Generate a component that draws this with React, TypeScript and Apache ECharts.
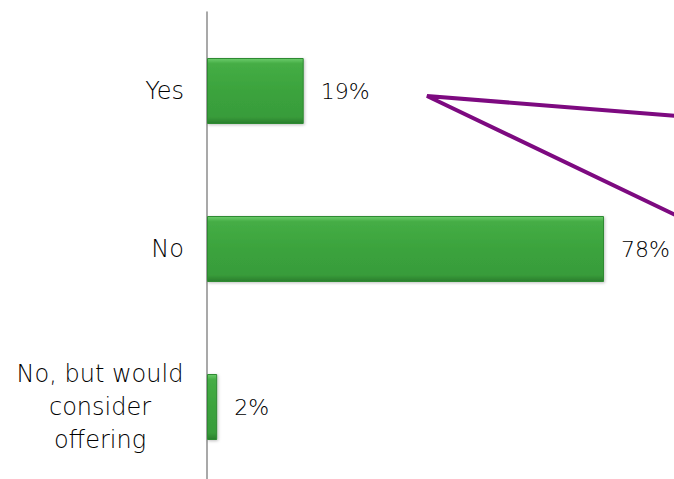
import React, { useEffect, useRef } from "react";
import * as echarts from "echarts";

const categories = ["Yes", "No", "No, but would\nconsider\noffering"];
const values = [19, 78, 2];
const calloutPoints: [number, number][] = [
  [690, 117],
  [427, 96],
  [690, 222],
];

export default function App() {
  const ref = useRef<HTMLDivElement>(null);
  useEffect(() => {
    if (!ref.current) return;
    const chart = echarts.init(ref.current, undefined, { renderer: "svg" });
    const font = "DejaVu Sans";
    const txt = { color: "#000", fontFamily: font, fontWeight: 200, fontSize: 24, lineHeight: 33 };
    chart.setOption({
      animation: false,
      grid: { left: 207, top: 12, width: 509, height: 474 },
      xAxis: {
        type: "value",
        min: 0,
        max: 100,
        show: false,
      },
      yAxis: {
        type: "category",
        data: categories,
        inverse: true,
        axisLine: { show: true, lineStyle: { color: "#8c8c8c", width: 1.5 } },
        axisTick: { show: false },
        axisLabel: {
          ...txt,
          margin: 23,
          align: "right",
          formatter: (v: string) =>
            v.includes("\n")
              ? v
                  .split("\n")
                  .map((l) => `{c|${l}}`)
                  .join("\n")
              : `{r|${v}}`,
          rich: {
            c: { ...txt, width: 168, align: "center" },
            r: { ...txt },
          },
        },
      },
      series: [
        {
          type: "bar",
          data: values,
          barWidth: 66,
          itemStyle: {
            color: new echarts.graphic.LinearGradient(0, 0, 0, 1, [
              { offset: 0, color: "#6ccc6c" },
              { offset: 0.08, color: "#45ad45" },
              { offset: 0.5, color: "#3ba33d" },
              { offset: 0.9, color: "#389c3a" },
              { offset: 1, color: "#2a7e2d" },
            ]),
            borderColor: "#2f8a33",
            borderWidth: 1,
            shadowColor: "rgba(0,0,0,0.25)",
            shadowBlur: 3,
            shadowOffsetX: 1,
            shadowOffsetY: 1,
          },
          label: {
            show: true,
            position: "right",
            distance: 17,
            formatter: "{c}%",
            color: "#000",
            fontFamily: font,
            fontWeight: 200,
            fontSize: 22,
          },
        },
      ],
      graphic: [
        {
          type: "polyline",
          shape: { points: calloutPoints },
          style: { stroke: "#7d0a80", lineWidth: 4, fill: "none" },
        },
      ],
    });
    return () => chart.dispose();
  }, []);
  return (
    <div
      ref={ref}
      style={{ position: "fixed", left: 0, top: 0, width: 730, height: 500, background: "#fff" }}
    />
  );
}
